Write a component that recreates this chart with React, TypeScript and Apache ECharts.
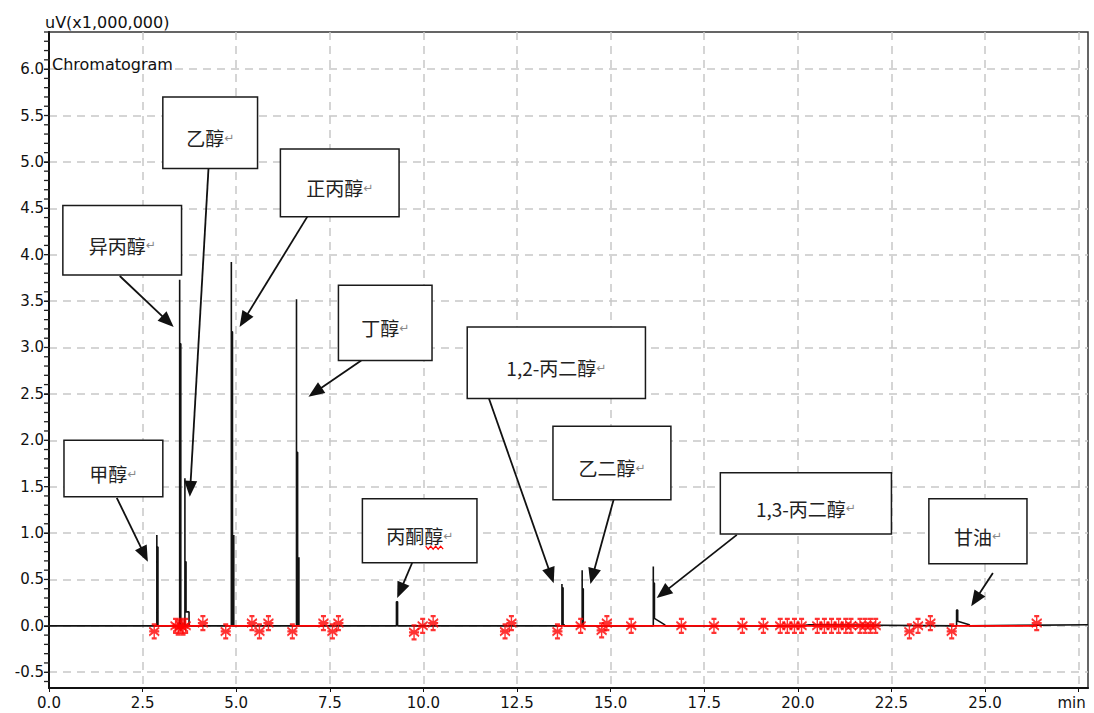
import React, { useEffect, useRef } from 'react';
import * as echarts from 'echarts';

// ---------------- data ----------------
const peakNames = ['甲醇', '异丙醇', '乙醇', '正丙醇', '丁醇', '丙酮醇', '1,2-丙二醇', '乙二醇', '1,3-丙二醇', '甘油'];
const peakTimes = [2.88, 3.49, 3.63, 4.87, 6.61, 9.28, 13.7, 14.24, 16.14, 24.24];
const peakApex = [0.98, 3.73, 1.59, 3.92, 3.52, 0.26, 0.45, 0.6, 0.64, 0.17];
const peakBody = [0.85, 3.04, 0.69, 3.17, 1.87, 0.26, 0.41, 0.4, 0.46, 0.17];
const sideHeight = [0, 0, 0, 0.98, 0.74, 0, 0, 0, 0, 0];
const tailLevel = [0, 0, 0.15, 0, 0, 0, 0.02, 0, 0.08, 0.05];
const tailEnd = [0, 0, 3.74, 0, 0, 0, 13.76, 0, 16.45, 24.58];
const tailEndLevel = [0, 0, 0.15, 0, 0, 0, 0.01, 0, 0.01, 0.012];

const baselineTimes = [0, 20.1, 20.3, 27.75];
const baselineLevels = [0, 0, 0.012, 0.012];

const integStart = [2.81, 4.72, 6.5, 13.58, 24.11];
const integEnd = [4.11, 5.42, 7.33, 22.08, 26.38];

const markerTimes = [
  2.81, 3.38, 3.45, 3.52, 3.58, 3.65, 4.11, 4.72, 5.42, 5.62, 5.86, 6.5, 7.33, 7.57, 7.73,
  9.75, 9.98, 10.26, 12.18, 12.35, 13.58, 14.2, 14.76, 14.9, 15.55, 16.89, 17.76, 18.52, 19.08,
  19.53, 19.72, 19.91, 20.1, 20.52, 20.71, 20.9, 21.09, 21.28, 21.42, 21.66, 21.8, 21.94, 22.08,
  22.98, 23.21, 23.54, 24.11, 26.38,
];
const markerLevels = [
  -0.06, 0, -0.02, 0, -0.02, 0, 0.03, -0.06, 0.03, -0.06, 0.03, -0.06, 0.03, -0.06, 0.03,
  -0.07, 0, 0.03, -0.06, 0.03, -0.06, 0, -0.05, 0.03, 0, 0, 0, 0, 0,
  0, 0, 0, 0, 0, 0, 0, 0, 0, 0, 0, 0, 0, 0,
  -0.06, 0, 0.03, -0.06, 0.03,
];

const xLabelValues = [0, 2.5, 5, 7.5, 10, 12.5, 15, 17.5, 20, 22.5, 25, 27.5];
const yLabelValues = [-0.5, 0, 0.5, 1, 1.5, 2, 2.5, 3, 3.5, 4, 4.5, 5, 5.5, 6];
const yMinorTicks: number[] = [];
for (let k = -6; k <= 64; k++) yMinorTicks.push(Math.round(k * 10) / 100);

// ---------------- callout layout (data coordinates) ----------------
const callouts = [
  { name: '甲醇', box: [0.4, 2.0, 3.04, 1.39], from: [1.81, 1.38], tip: [2.64, 0.69] },
  { name: '异丙醇', box: [0.37, 4.53, 3.54, 3.78], from: [1.89, 3.77], tip: [3.33, 3.22] },
  { name: '乙醇', box: [3.04, 5.7, 5.57, 4.93], from: [4.26, 4.93], tip: [3.76, 1.39] },
  { name: '正丙醇', box: [6.18, 5.14, 9.35, 4.41], from: [6.9, 4.41], tip: [5.09, 3.22] },
  { name: '丁醇', box: [7.73, 3.67, 10.23, 2.86], from: [8.34, 2.86], tip: [6.93, 2.47] },
  { name: '丙酮醇', box: [8.37, 1.37, 11.43, 0.68], from: [9.7, 0.68], tip: [9.3, 0.3] },
  { name: '1,2-丙二醇', box: [11.17, 3.22, 15.93, 2.45], from: [11.75, 2.45], tip: [13.48, 0.46] },
  { name: '乙二醇', box: [13.46, 2.15, 16.61, 1.36], from: [15.08, 1.36], tip: [14.46, 0.45] },
  { name: '1,3-丙二醇', box: [17.93, 1.65, 22.5, 0.99], from: [18.37, 0.98], tip: [16.23, 0.3] },
  { name: '甘油', box: [23.5, 1.37, 26.12, 0.67], from: [25.21, 0.57], tip: [24.63, 0.21] },
];

const FONT_AX = "'DejaVu Sans', Verdana, sans-serif";
const FONT_CJK = "'Noto Sans CJK SC', 'DejaVu Sans', sans-serif";

function buildTrace(): number[][] {
  const groups: number[][][] = [];
  baselineTimes.forEach((t, i) => groups.push([[t, baselineLevels[i]]]));
  peakTimes.forEach((t, i) => {
    const w = 0.03;
    const pts: number[][] = [
      [t, 0],
      [t, peakApex[i]],
      [t, peakBody[i]],
      [t + w, peakBody[i]],
    ];
    if (tailLevel[i] > 0) {
      pts.push([t + w, tailLevel[i]], [tailEnd[i], tailEndLevel[i]], [tailEnd[i], 0]);
    } else {
      pts.push([t + w, 0]);
    }
    if (sideHeight[i] > 0) {
      pts.push([t + 0.065, 0], [t + 0.065, sideHeight[i]], [t + 0.065, 0]);
    }
    groups.push(pts);
  });
  groups.sort((a, b) => a[0][0] - b[0][0]);
  return groups.flat();
}

const markerPath = 'path://M5 0L5 16M1 8L9 8M1 4L9 12M9 4L1 12M3 1L7 1M3 15L7 15';

function buildOption(): any {
  const series: any[] = [
    {
      type: 'line',
      name: 'Chromatogram',
      data: buildTrace(),
      showSymbol: false,
      symbol: 'none',
      lineStyle: { color: '#111', width: 1.6 },
      z: 3,
      silent: true,
    },
  ];
  integStart.forEach((s, i) => {
    series.push({
      type: 'line',
      name: 'baseline' + i,
      data: [
        [s, 0],
        [integEnd[i], 0],
      ],
      showSymbol: false,
      symbol: 'none',
      lineStyle: { color: '#ff0000', width: 1.6 },
      z: 4,
      silent: true,
    });
  });
  series.push({
    type: 'scatter',
    name: 'marks',
    data: markerTimes.map((t, i) => [t, markerLevels[i]]),
    symbol: markerPath,
    symbolSize: [10, 16],
    itemStyle: { color: 'rgba(0,0,0,0)', borderColor: '#ff0000', borderWidth: 1.8 },
    z: 5,
    silent: true,
  });

  const gridLine = { show: true, lineStyle: { color: '#c8c8c8', width: 1.5, type: [8, 6] } };

  return {
    animation: false,
    backgroundColor: '#ffffff',
    grid: { left: 49, right: 6, top: 32, bottom: 25, show: true, borderColor: '#333', borderWidth: 1.5, containLabel: false },
    xAxis: {
      type: 'value',
      min: 0,
      max: 27.75,
      axisLine: { show: true, onZero: false, lineStyle: { color: '#111', width: 2 } },
      axisTick: { show: true, length: 4, customValues: xLabelValues, lineStyle: { color: '#111' } },
      axisLabel: {
        customValues: xLabelValues,
        formatter: (v: number) => (v === 27.5 ? '{m|min}' : v.toFixed(1)),
        rich: { m: { fontFamily: FONT_AX, fontSize: 15, color: '#111', padding: [0, 14, 0, 0] } },
        fontFamily: FONT_AX,
        fontSize: 15,
        color: '#111',
        margin: 7,
      },
      splitLine: gridLine,
    },
    yAxis: {
      type: 'value',
      min: -0.67,
      max: 6.4,
      axisLine: { show: true, onZero: false, lineStyle: { color: '#111', width: 2 } },
      axisTick: { show: true, length: 5, customValues: yLabelValues, lineStyle: { color: '#111' } },
      axisLabel: {
        customValues: yLabelValues,
        formatter: (v: number) => v.toFixed(1),
        fontFamily: FONT_AX,
        fontSize: 15,
        color: '#111',
        margin: 5,
      },
      splitLine: gridLine,
    },
    series,
  };
}

function buildGraphic(chart: echarts.ECharts): any[] {
  const px = (p: number[]) => chart.convertToPixel({ gridIndex: 0 } as any, p) as number[];
  const els: any[] = [
    {
      type: 'text',
      x: 45,
      y: 22,
      z: 20,
      style: { text: 'uV(x1,000,000)', fontFamily: FONT_AX, fontSize: 16, fill: '#111', align: 'left', verticalAlign: 'middle' },
    },
    {
      type: 'text',
      x: 52,
      y: 64,
      z: 20,
      style: { text: 'Chromatogram', fontFamily: FONT_AX, fontSize: 16, fill: '#111', align: 'left', verticalAlign: 'middle' },
    },
  ];
  // minor ticks on the left axis
  yMinorTicks.forEach((v) => {
    const p = px([0, v]);
    els.push({
      type: 'line',
      z: 20,
      shape: { x1: p[0] - 5, y1: p[1], x2: p[0] + 1, y2: p[1] },
      style: { stroke: '#222', lineWidth: 1.3 },
    });
  });
  callouts.forEach((c) => {
    const p1 = px([c.box[0], c.box[1]]);
    const p2 = px([c.box[2], c.box[3]]);
    const x = Math.min(p1[0], p2[0]);
    const y = Math.min(p1[1], p2[1]);
    const w = Math.abs(p2[0] - p1[0]);
    const h = Math.abs(p2[1] - p1[1]);
    // arrow
    const a = px(c.from);
    const b = px(c.tip);
    const dx = b[0] - a[0];
    const dy = b[1] - a[1];
    const len = Math.sqrt(dx * dx + dy * dy);
    const ux = dx / len;
    const uy = dy / len;
    const headLen = 16;
    const headW = 6.5;
    const bx = b[0] - ux * headLen;
    const by = b[1] - uy * headLen;
    els.push({
      type: 'line',
      z: 30,
      shape: { x1: a[0], y1: a[1], x2: bx + ux * 2, y2: by + uy * 2 },
      style: { stroke: '#111', lineWidth: 1.8 },
    });
    els.push({
      type: 'polygon',
      z: 30,
      shape: {
        points: [
          [b[0], b[1]],
          [bx - uy * headW, by + ux * headW],
          [bx + uy * headW, by - ux * headW],
        ],
      },
      style: { fill: '#111' },
    });
    els.push({
      type: 'rect',
      z: 31,
      shape: { x, y, width: w, height: h },
      style: { fill: '#ffffff', stroke: '#1a1a1a', lineWidth: 1.5 },
    });
    const cx = x + w / 2;
    const cy = y + h / 2 + 5;
    els.push({
      type: 'text',
      z: 32,
      x: cx,
      y: cy,
      style: {
        text: '{a|' + c.name + '}{b|↵}',
        align: 'center',
        verticalAlign: 'middle',
        rich: {
          a: { fontFamily: FONT_CJK, fontSize: 19, fill: '#222' },
          b: { fontFamily: "'DejaVu Sans', sans-serif", fontSize: 12, fill: '#888' },
        },
      },
    });
    if (c.name === '丙酮醇') {
      const right = cx + 36 - 11;
      const left = right - 19;
      const pts: number[][] = [];
      let up = true;
      for (let xx = left; xx <= right; xx += 2.5) {
        pts.push([xx, cy + 12 + (up ? -1.5 : 1.5)]);
        up = !up;
      }
      els.push({ type: 'polyline', z: 33, shape: { points: pts }, style: { stroke: '#ff0000', lineWidth: 1.2, fill: 'none' } });
    }
  });
  return els;
}

export default function App() {
  const ref = useRef<HTMLDivElement>(null);
  useEffect(() => {
    document.body.style.margin = '0';
    const chart = echarts.init(ref.current!, null, { renderer: 'svg' });
    chart.setOption(buildOption());
    chart.setOption({ graphic: buildGraphic(chart) });
    return () => chart.dispose();
  }, []);
  return <div ref={ref} style={{ width: 1094, height: 713 }} />;
}
